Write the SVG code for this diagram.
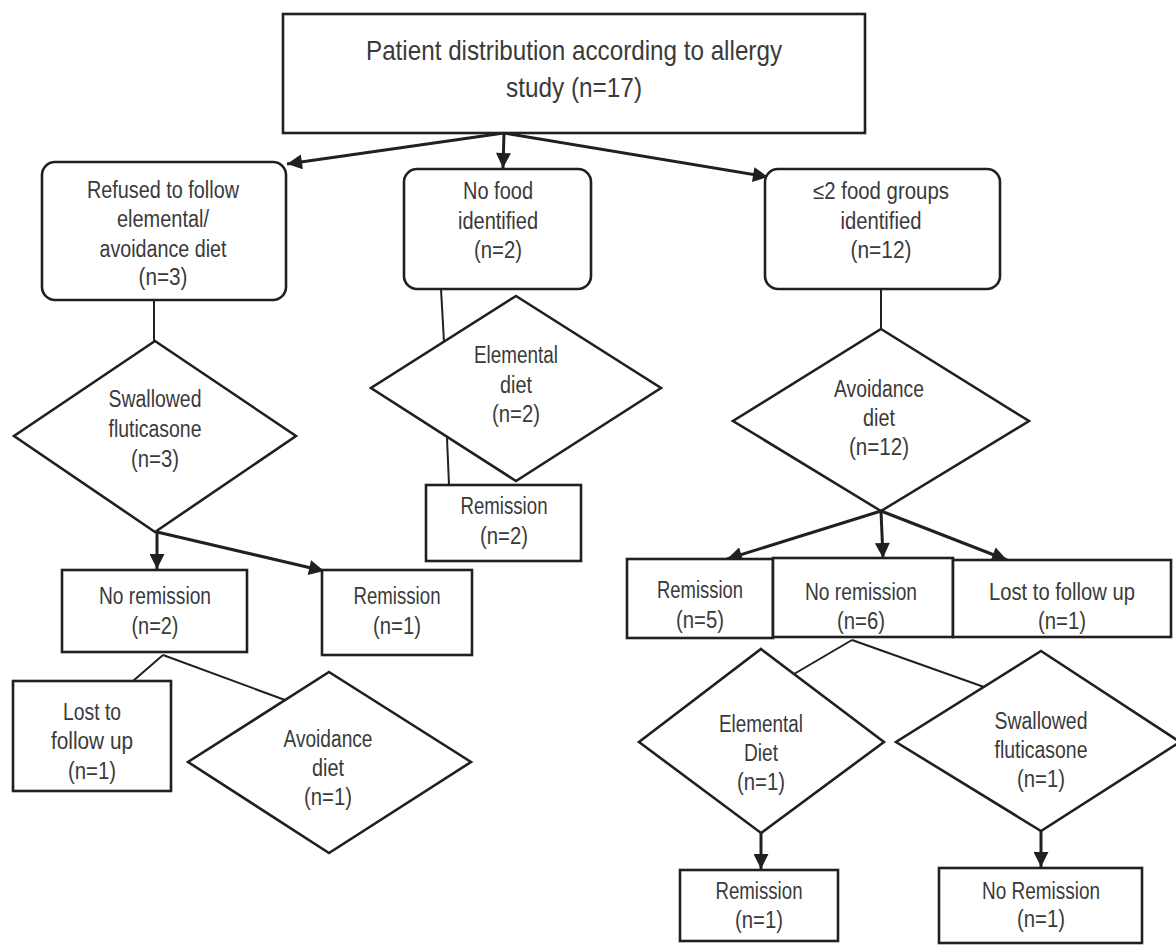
<svg xmlns="http://www.w3.org/2000/svg" width="1176" height="945" viewBox="0 0 1176 945">
<defs>
<style>
.box{fill:#fff;stroke:#231f20;stroke-width:2.6}
.dia{fill:#fff;stroke:#231f20;stroke-width:2.6;stroke-linejoin:miter}
.ln{fill:none;stroke:#231f20;stroke-width:2}
.ar{fill:none;stroke:#231f20;stroke-width:3}
text{font-family:"Liberation Sans",Arial,sans-serif;font-size:23px;fill:#3a3a3a;text-anchor:middle}
.title{font-size:28px}
</style>
<marker id="ah" viewBox="0 0 10 10" refX="10" refY="5" markerUnits="userSpaceOnUse" markerWidth="17" markerHeight="15" orient="auto">
<path d="M0,0 L10,5 L0,10 Z" fill="#231f20"/>
</marker>
</defs>
<rect width="1176" height="945" fill="#fff"/>

<g id="connectors">
<line class="ar" x1="504" y1="133" x2="287" y2="164" marker-end="url(#ah)"/>
<line class="ar" x1="504" y1="133" x2="503" y2="168" marker-end="url(#ah)"/>
<line class="ar" x1="504" y1="133" x2="768" y2="177" marker-end="url(#ah)"/>
<line class="ln" x1="154" y1="300" x2="154" y2="341"/>
<line class="ln" x1="441" y1="289" x2="444" y2="342"/>
<line class="ln" x1="447" y1="438" x2="449" y2="485"/>
<line class="ln" x1="881" y1="289" x2="881" y2="329"/>
<line class="ar" x1="157" y1="532" x2="157" y2="569" marker-end="url(#ah)"/>
<line class="ar" x1="157" y1="532" x2="324" y2="571" marker-end="url(#ah)"/>
<line class="ln" x1="163" y1="655" x2="133" y2="681"/>
<line class="ln" x1="163" y1="655" x2="285" y2="700"/>
<line class="ar" x1="881" y1="511" x2="727" y2="559" marker-end="url(#ah)"/>
<line class="ar" x1="881" y1="511" x2="883" y2="558" marker-end="url(#ah)"/>
<line class="ar" x1="881" y1="511" x2="1007" y2="560" marker-end="url(#ah)"/>
<line class="ln" x1="852" y1="640" x2="794" y2="674"/>
<line class="ln" x1="852" y1="640" x2="984" y2="687"/>
<line class="ar" x1="761" y1="833" x2="761" y2="869" marker-end="url(#ah)"/>
<line class="ar" x1="1041" y1="831" x2="1041" y2="867" marker-end="url(#ah)"/>
</g>

<g id="n_top">
<rect class="box" x="283" y="14" width="582" height="119" stroke-width="3"/>
<text class="title" x="574" y="60" textLength="416" lengthAdjust="spacingAndGlyphs">Patient distribution according to allergy</text>
<text class="title" x="574" y="97" textLength="136" lengthAdjust="spacingAndGlyphs">study (n=17)</text>
</g>

<g id="n_refused">
<rect class="box" x="42" y="162" width="244" height="138" rx="13"/>
<text x="163" y="198" textLength="152" lengthAdjust="spacingAndGlyphs">Refused to follow</text>
<text x="163" y="227" textLength="92" lengthAdjust="spacingAndGlyphs">elemental/</text>
<text x="163" y="257" textLength="127" lengthAdjust="spacingAndGlyphs">avoidance diet</text>
<text x="163" y="285" textLength="49" lengthAdjust="spacingAndGlyphs">(n=3)</text>
</g>

<g id="n_nofood">
<rect class="box" x="404" y="169" width="187" height="120" rx="13"/>
<text x="498" y="199" textLength="70" lengthAdjust="spacingAndGlyphs">No food</text>
<text x="498" y="229" textLength="80" lengthAdjust="spacingAndGlyphs">identified</text>
<text x="498" y="258" textLength="48" lengthAdjust="spacingAndGlyphs">(n=2)</text>
</g>

<g id="n_le2">
<rect class="box" x="765" y="169" width="235" height="120" rx="13"/>
<text x="881" y="199" textLength="136" lengthAdjust="spacingAndGlyphs">≤2 food groups</text>
<text x="881" y="229" textLength="81" lengthAdjust="spacingAndGlyphs">identified</text>
<text x="881" y="258" textLength="61" lengthAdjust="spacingAndGlyphs">(n=12)</text>
</g>

<g id="n_swallowed3">
<polygon class="dia" points="155,341 296,436 155,532 14,436"/>
<text x="155" y="407" textLength="93" lengthAdjust="spacingAndGlyphs">Swallowed</text>
<text x="155" y="437" textLength="93" lengthAdjust="spacingAndGlyphs">fluticasone</text>
<text x="155" y="467" textLength="48" lengthAdjust="spacingAndGlyphs">(n=3)</text>
</g>

<g id="n_elemental2">
<polygon class="dia" points="516,296 661,388 516,481 371,388"/>
<text x="516" y="363" textLength="84" lengthAdjust="spacingAndGlyphs">Elemental</text>
<text x="516" y="393" textLength="32" lengthAdjust="spacingAndGlyphs">diet</text>
<text x="516" y="422" textLength="48" lengthAdjust="spacingAndGlyphs">(n=2)</text>
</g>

<g id="n_avoid12">
<polygon class="dia" points="881,329 1029,421 881,511 733,421"/>
<text x="879" y="397" textLength="90" lengthAdjust="spacingAndGlyphs">Avoidance</text>
<text x="879" y="426" textLength="32" lengthAdjust="spacingAndGlyphs">diet</text>
<text x="879" y="455" textLength="60" lengthAdjust="spacingAndGlyphs">(n=12)</text>
</g>

<g id="n_remission2">
<rect class="box" x="426" y="485" width="155" height="76"/>
<text x="504" y="514" textLength="87" lengthAdjust="spacingAndGlyphs">Remission</text>
<text x="504" y="544" textLength="48" lengthAdjust="spacingAndGlyphs">(n=2)</text>
</g>

<g id="n_noremission2">
<rect class="box" x="62" y="570" width="185" height="82"/>
<text x="155" y="604" textLength="112" lengthAdjust="spacingAndGlyphs">No remission</text>
<text x="155" y="634" textLength="47" lengthAdjust="spacingAndGlyphs">(n=2)</text>
</g>

<g id="n_remission1a">
<rect class="box" x="322" y="570" width="150" height="85" stroke-width="3"/>
<text x="397" y="604" textLength="87" lengthAdjust="spacingAndGlyphs">Remission</text>
<text x="397" y="634" textLength="48" lengthAdjust="spacingAndGlyphs">(n=1)</text>
</g>

<g id="n_lost1a">
<rect class="box" x="13" y="681" width="158" height="110"/>
<text x="92" y="720" textLength="58" lengthAdjust="spacingAndGlyphs">Lost to</text>
<text x="92" y="749" textLength="82" lengthAdjust="spacingAndGlyphs">follow up</text>
<text x="92" y="779" textLength="48" lengthAdjust="spacingAndGlyphs">(n=1)</text>
</g>

<g id="n_avoid1">
<polygon class="dia" points="329,672 471,762 329,853 188,762"/>
<text x="328" y="747" textLength="89" lengthAdjust="spacingAndGlyphs">Avoidance</text>
<text x="328" y="776" textLength="32" lengthAdjust="spacingAndGlyphs">diet</text>
<text x="328" y="805" textLength="48" lengthAdjust="spacingAndGlyphs">(n=1)</text>
</g>

<g id="n_remission5">
<rect class="box" x="627" y="559" width="146" height="79" stroke-width="3"/>
<text x="700" y="598" textLength="86" lengthAdjust="spacingAndGlyphs">Remission</text>
<text x="700" y="628" textLength="48" lengthAdjust="spacingAndGlyphs">(n=5)</text>
</g>

<g id="n_noremission6">
<rect class="box" x="773" y="558" width="180" height="79" stroke-width="3"/>
<text x="861" y="600" textLength="112" lengthAdjust="spacingAndGlyphs">No remission</text>
<text x="861" y="629" textLength="48" lengthAdjust="spacingAndGlyphs">(n=6)</text>
</g>

<g id="n_lost1b">
<rect class="box" x="953" y="560" width="218" height="77"/>
<text x="1062" y="600" textLength="146" lengthAdjust="spacingAndGlyphs">Lost to follow up</text>
<text x="1062" y="629" textLength="48" lengthAdjust="spacingAndGlyphs">(n=1)</text>
</g>

<g id="n_elemental1">
<polygon class="dia" points="761,649 884,742 761,833 639,742"/>
<text x="761" y="732" textLength="84" lengthAdjust="spacingAndGlyphs">Elemental</text>
<text x="761" y="761" textLength="34" lengthAdjust="spacingAndGlyphs">Diet</text>
<text x="761" y="790" textLength="48" lengthAdjust="spacingAndGlyphs">(n=1)</text>
</g>

<g id="n_swallowed1">
<polygon class="dia" points="1041,651 1180,742 1041,831 896,742"/>
<text x="1041" y="729" textLength="93" lengthAdjust="spacingAndGlyphs">Swallowed</text>
<text x="1041" y="758" textLength="93" lengthAdjust="spacingAndGlyphs">fluticasone</text>
<text x="1041" y="787" textLength="48" lengthAdjust="spacingAndGlyphs">(n=1)</text>
</g>

<g id="n_remission1b">
<rect class="box" x="680" y="870" width="158" height="71" stroke-width="3"/>
<text x="759" y="899" textLength="87" lengthAdjust="spacingAndGlyphs">Remission</text>
<text x="759" y="928" textLength="48" lengthAdjust="spacingAndGlyphs">(n=1)</text>
</g>

<g id="n_noremission1">
<rect class="box" x="939" y="868" width="203" height="75" stroke-width="3"/>
<text x="1041" y="899" textLength="118" lengthAdjust="spacingAndGlyphs">No Remission</text>
<text x="1041" y="927" textLength="48" lengthAdjust="spacingAndGlyphs">(n=1)</text>
</g>
</svg>
